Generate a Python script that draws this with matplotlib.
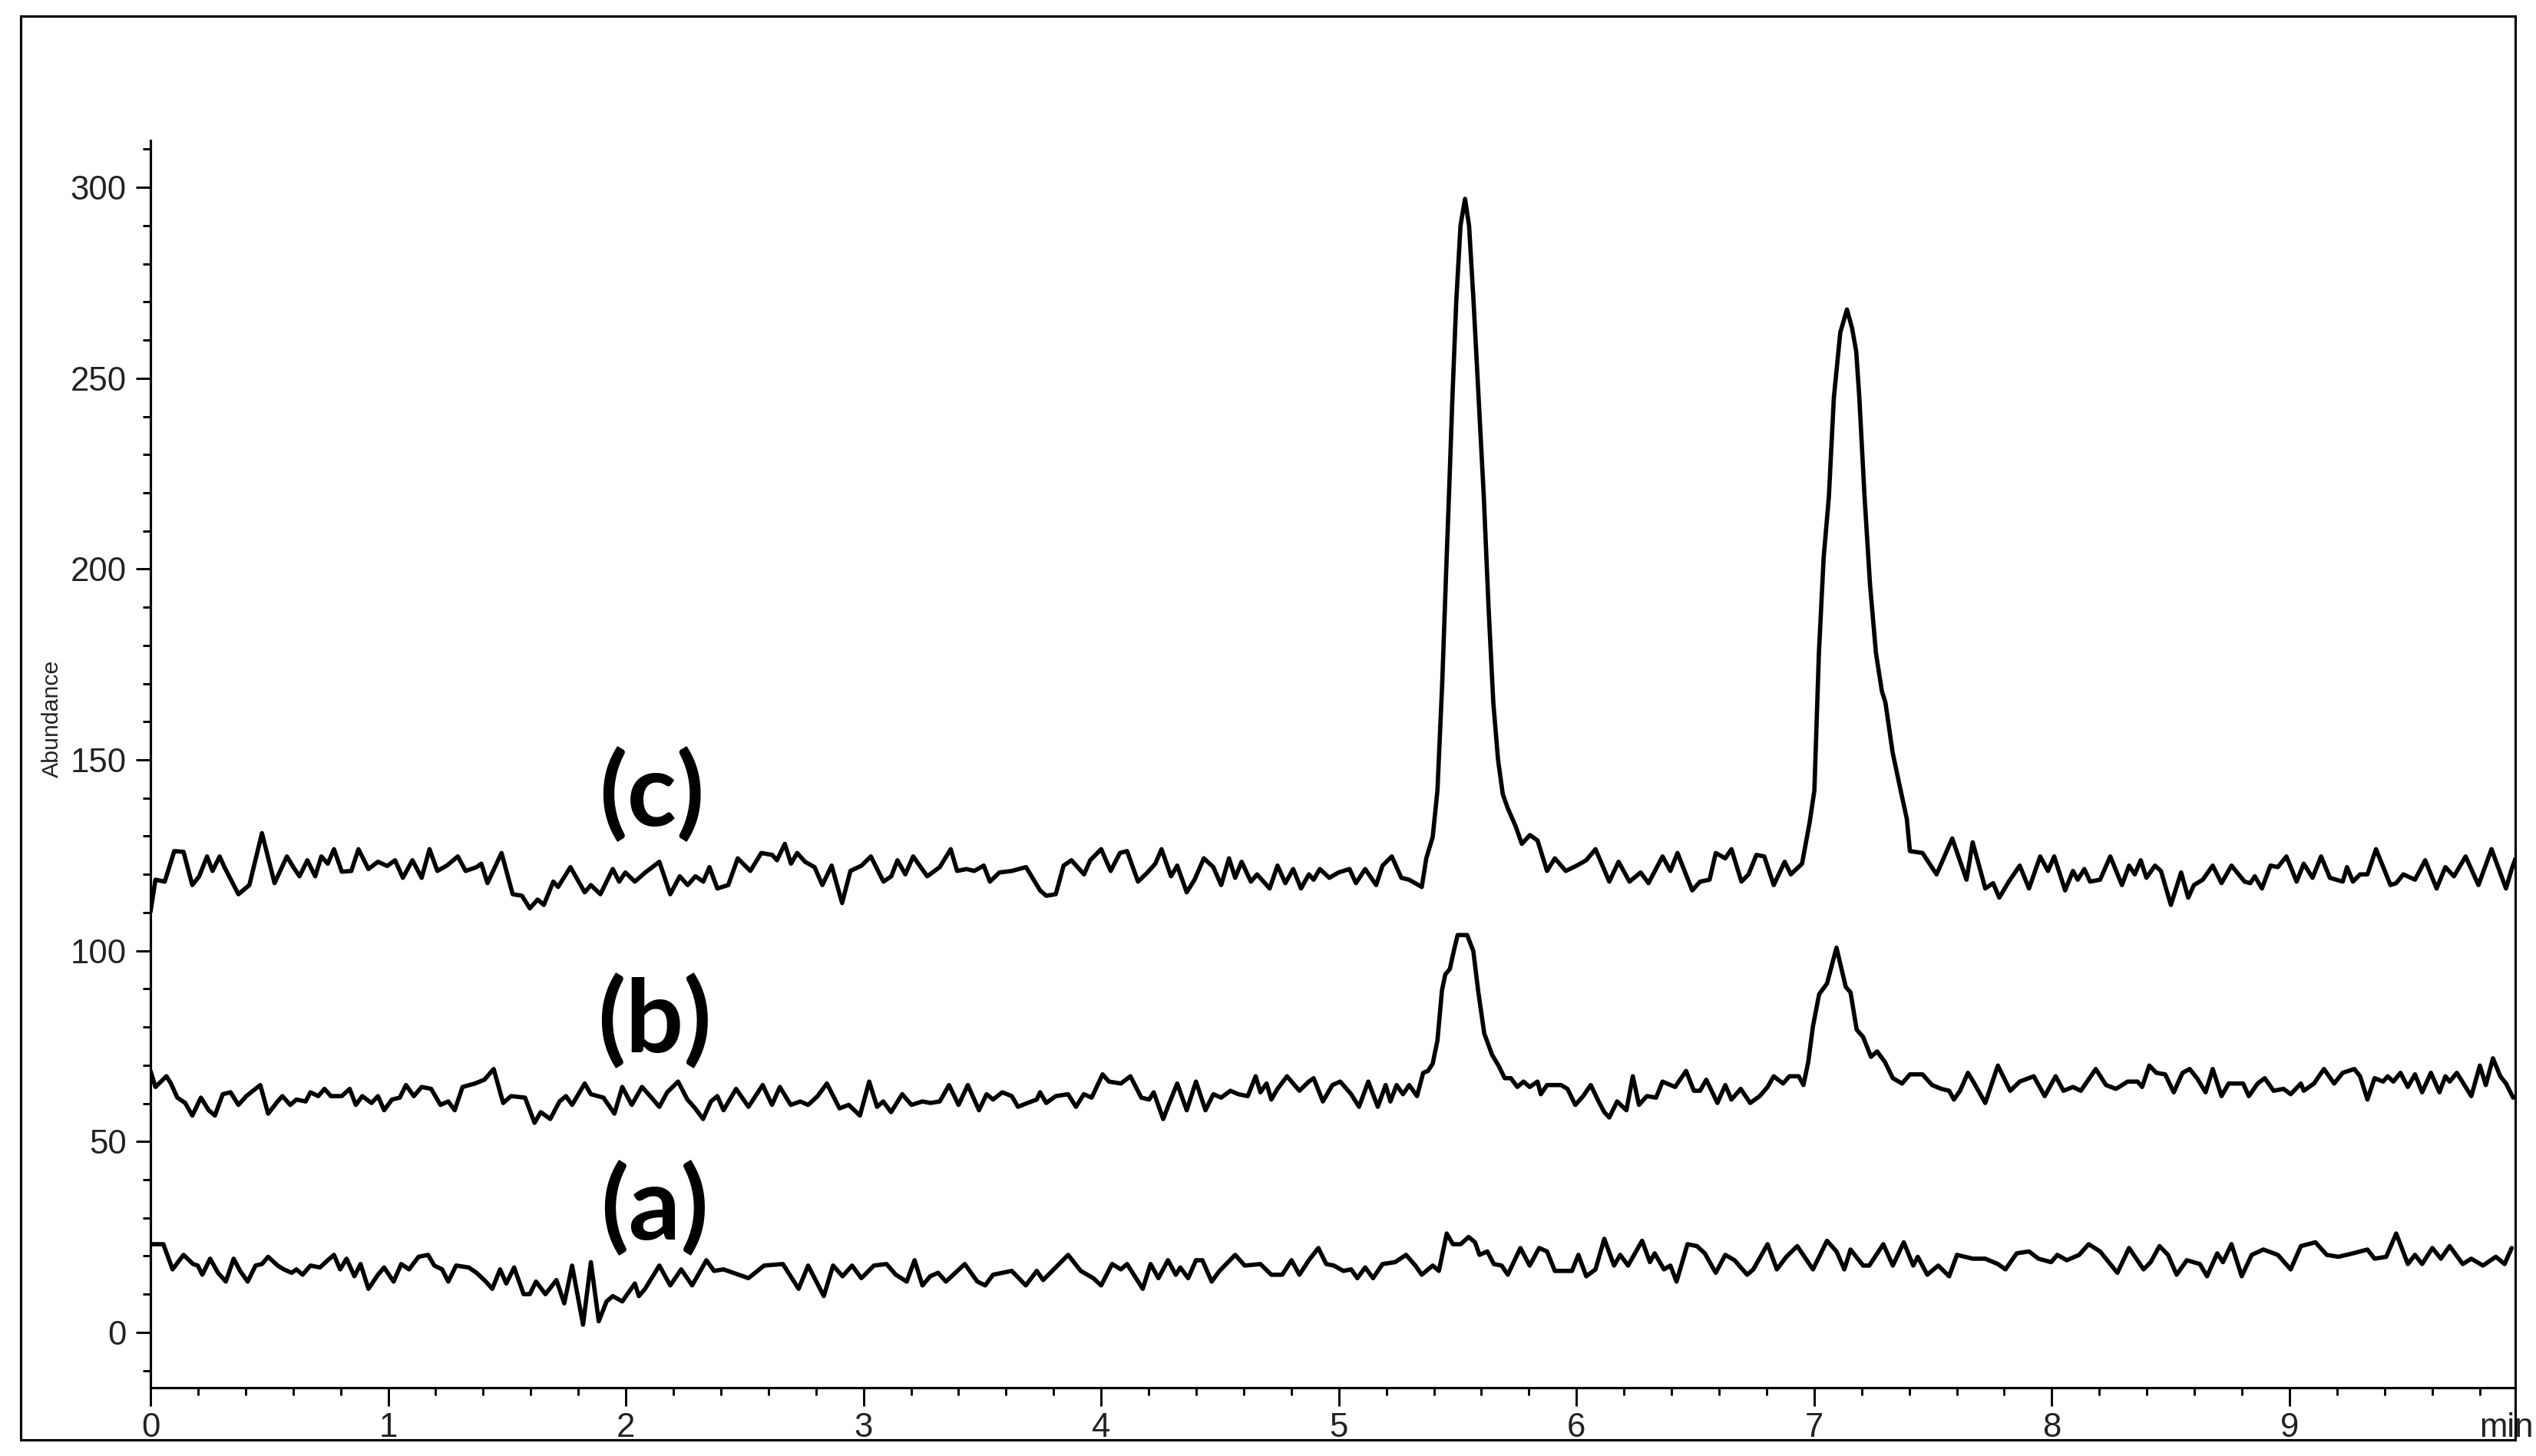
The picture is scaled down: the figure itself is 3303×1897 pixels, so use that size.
import matplotlib.pyplot as plt
from matplotlib.patches import Rectangle
from matplotlib.ticker import MultipleLocator

# chromatogram vertices: (time in min, abundance)
trace_c = [
    (0.000, 110.2), (0.021, 118.6), (0.060, 118.1), (0.100, 126.1), (0.139, 125.9), (0.176, 117.2),
    (0.205, 119.5), (0.238, 124.7), (0.261, 120.9), (0.291, 124.7), (0.311, 121.9), (0.370, 114.8),
    (0.416, 117.2), (0.469, 130.8), (0.522, 117.7), (0.574, 124.7), (0.601, 121.9), (0.627, 119.5),
    (0.660, 123.7), (0.693, 119.5), (0.719, 124.7), (0.746, 122.8), (0.772, 126.6), (0.805, 120.7),
    (0.845, 120.9), (0.875, 126.6), (0.917, 121.4), (0.957, 123.3), (0.996, 122.2), (1.029, 123.7),
    (1.062, 119.1), (1.102, 123.7), (1.141, 119.1), (1.174, 126.6), (1.207, 120.9), (1.247, 122.3),
    (1.293, 124.7), (1.326, 120.9), (1.372, 121.9), (1.392, 122.8), (1.418, 117.7), (1.477, 125.6),
    (1.524, 114.8), (1.563, 114.4), (1.596, 111.1), (1.629, 113.4), (1.655, 112.0), (1.695, 118.1),
    (1.715, 116.7), (1.767, 121.9), (1.827, 115.3), (1.853, 117.2), (1.893, 114.8), (1.945, 121.4),
    (1.972, 118.1), (1.998, 120.5), (2.038, 118.1), (2.082, 120.5), (2.141, 123.3), (2.187, 114.8),
    (2.227, 119.5), (2.260, 117.2), (2.293, 119.5), (2.326, 118.1), (2.352, 121.9), (2.385, 116.3),
    (2.431, 117.2), (2.471, 124.2), (2.524, 120.9), (2.570, 125.6), (2.616, 125.1), (2.636, 123.7),
    (2.669, 128.0), (2.695, 122.8), (2.721, 125.6), (2.754, 123.3), (2.794, 121.9), (2.827, 117.2),
    (2.866, 122.3), (2.910, 112.5), (2.945, 120.9), (2.992, 122.3), (3.031, 124.7), (3.084, 118.1),
    (3.117, 119.5), (3.143, 123.7), (3.176, 120.0), (3.209, 124.7), (3.268, 119.5), (3.321, 121.9),
    (3.367, 126.6), (3.394, 120.9), (3.433, 121.4), (3.466, 120.9), (3.506, 122.3), (3.532, 118.1),
    (3.572, 120.5), (3.624, 120.9), (3.684, 121.9), (3.743, 115.8), (3.769, 114.4), (3.809, 114.8),
    (3.842, 122.3), (3.875, 123.7), (3.928, 120.0), (3.954, 123.7), (4.000, 126.6), (4.040, 120.9),
    (4.079, 125.6), (4.109, 126.1), (4.155, 118.1), (4.195, 120.5), (4.228, 122.8), (4.254, 126.6),
    (4.294, 119.5), (4.320, 122.3), (4.360, 115.3), (4.393, 118.6), (4.432, 124.2), (4.472, 121.9),
    (4.505, 117.2), (4.538, 124.2), (4.564, 119.1), (4.591, 123.3), (4.630, 118.1), (4.656, 120.0),
    (4.709, 116.3), (4.742, 122.3), (4.775, 117.7), (4.808, 121.4), (4.841, 116.3), (4.874, 120.0),
    (4.894, 118.6), (4.920, 121.4), (4.960, 119.1), (4.999, 120.5), (5.045, 121.4), (5.072, 117.7),
    (5.111, 121.4), (5.157, 117.2), (5.184, 122.3), (5.223, 124.7), (5.263, 119.1), (5.296, 118.6),
    (5.349, 116.7), (5.368, 124.2), (5.395, 129.8), (5.415, 142.0), (5.435, 170.0), (5.452, 200.0),
    (5.465, 222.0), (5.478, 245.0), (5.494, 270.0), (5.512, 290.0), (5.531, 297.0), (5.548, 290.0),
    (5.567, 270.0), (5.588, 245.0), (5.610, 219.0), (5.630, 190.0), (5.650, 165.0), (5.670, 150.0),
    (5.690, 141.0), (5.711, 137.3), (5.744, 132.6), (5.770, 128.0), (5.804, 130.3), (5.836, 128.9),
    (5.876, 120.9), (5.909, 124.2), (5.955, 120.9), (6.001, 122.3), (6.041, 123.7), (6.080, 126.6),
    (6.138, 118.1), (6.177, 123.3), (6.223, 118.1), (6.270, 120.5), (6.303, 117.7), (6.362, 124.7),
    (6.395, 120.9), (6.425, 125.6), (6.487, 115.8), (6.520, 118.1), (6.560, 118.6), (6.586, 125.6),
    (6.626, 124.2), (6.652, 126.6), (6.694, 118.1), (6.724, 120.0), (6.757, 125.1), (6.790, 124.7),
    (6.830, 117.2), (6.876, 123.3), (6.902, 120.0), (6.949, 122.8), (6.981, 133.6), (7.001, 142.0),
    (7.020, 178.0), (7.040, 203.0), (7.062, 219.0), (7.083, 245.0), (7.110, 262.0), (7.138, 268.0),
    (7.160, 263.0), (7.177, 257.0), (7.190, 245.0), (7.212, 219.0), (7.235, 196.0), (7.260, 178.0),
    (7.285, 168.0), (7.300, 165.0), (7.330, 152.0), (7.364, 142.0), (7.390, 134.5), (7.403, 126.1),
    (7.456, 125.6), (7.515, 120.0), (7.581, 129.4), (7.641, 118.6), (7.667, 128.4), (7.720, 116.3),
    (7.753, 117.7), (7.779, 113.9), (7.819, 118.1), (7.865, 122.3), (7.904, 116.3), (7.951, 124.7),
    (7.984, 120.9), (8.010, 124.7), (8.056, 115.8), (8.089, 120.9), (8.109, 118.6), (8.137, 121.4),
    (8.161, 118.1), (8.203, 118.6), (8.246, 124.7), (8.295, 117.2), (8.325, 122.3), (8.349, 120.0),
    (8.374, 123.7), (8.398, 119.1), (8.434, 122.3), (8.459, 120.9), (8.501, 112.0), (8.544, 120.5),
    (8.574, 113.9), (8.598, 117.2), (8.635, 118.6), (8.677, 122.3), (8.714, 117.7), (8.756, 122.3),
    (8.811, 118.1), (8.835, 117.7), (8.854, 119.5), (8.884, 116.3), (8.920, 122.3), (8.951, 121.9),
    (8.987, 124.7), (9.030, 118.1), (9.060, 122.8), (9.097, 119.1), (9.133, 124.7), (9.170, 119.1),
    (9.224, 118.1), (9.242, 121.9), (9.267, 118.1), (9.297, 120.0), (9.328, 120.0), (9.364, 126.6),
    (9.425, 117.2), (9.449, 117.7), (9.479, 120.0), (9.528, 118.6), (9.571, 123.7), (9.619, 116.3),
    (9.656, 121.9), (9.692, 119.5), (9.741, 124.7), (9.795, 117.2), (9.850, 126.6), (9.911, 116.3),
    (9.935, 121.4), (9.950, 124.0),
]

trace_b = [
    (0.000, 68.5), (0.021, 64.3), (0.067, 67.1), (0.086, 65.2), (0.113, 61.5), (0.146, 60.1),
    (0.176, 56.8), (0.212, 61.5), (0.245, 58.2), (0.271, 56.8), (0.304, 62.4), (0.337, 62.9),
    (0.370, 59.6), (0.403, 61.9), (0.462, 64.8), (0.495, 57.3), (0.535, 60.5), (0.555, 61.9),
    (0.588, 59.6), (0.614, 61.0), (0.653, 60.5), (0.673, 62.9), (0.706, 61.9), (0.732, 63.8),
    (0.759, 61.9), (0.805, 61.9), (0.838, 63.8), (0.864, 59.6), (0.891, 61.9), (0.930, 60.1),
    (0.957, 61.9), (0.983, 58.2), (1.016, 61.0), (1.049, 61.5), (1.075, 64.8), (1.108, 61.9),
    (1.141, 64.3), (1.181, 63.8), (1.220, 59.6), (1.253, 60.5), (1.280, 58.2), (1.313, 64.3),
    (1.365, 65.2), (1.405, 66.2), (1.444, 69.0), (1.484, 60.1), (1.517, 61.9), (1.576, 61.5),
    (1.616, 54.9), (1.642, 57.7), (1.682, 55.9), (1.721, 60.5), (1.748, 61.9), (1.774, 59.6),
    (1.827, 65.2), (1.853, 62.4), (1.906, 61.5), (1.952, 57.3), (1.985, 64.3), (2.025, 59.6),
    (2.068, 64.3), (2.108, 61.5), (2.141, 59.1), (2.174, 62.9), (2.220, 65.7), (2.259, 61.0),
    (2.292, 58.7), (2.325, 55.9), (2.358, 60.5), (2.385, 61.9), (2.411, 58.2), (2.464, 63.8),
    (2.516, 59.1), (2.576, 64.8), (2.615, 59.6), (2.648, 64.3), (2.694, 59.6), (2.734, 60.5),
    (2.767, 59.6), (2.807, 61.9), (2.846, 65.2), (2.899, 58.7), (2.938, 59.6), (2.985, 56.8),
    (3.024, 65.7), (3.057, 59.1), (3.083, 60.5), (3.116, 57.7), (3.163, 62.4), (3.202, 59.6),
    (3.248, 60.5), (3.281, 60.1), (3.321, 60.5), (3.360, 64.8), (3.400, 59.6), (3.439, 64.8),
    (3.486, 58.2), (3.518, 62.4), (3.545, 61.0), (3.584, 62.9), (3.624, 61.9), (3.650, 59.1),
    (3.690, 60.1), (3.729, 61.0), (3.743, 62.9), (3.769, 60.1), (3.809, 61.9), (3.861, 62.4),
    (3.894, 59.1), (3.927, 62.4), (3.960, 61.5), (4.006, 67.6), (4.033, 65.7), (4.083, 65.2),
    (4.123, 67.1), (4.169, 61.5), (4.202, 61.0), (4.221, 62.9), (4.261, 55.9), (4.287, 60.1),
    (4.320, 65.2), (4.360, 58.2), (4.399, 65.7), (4.439, 58.2), (4.472, 62.4), (4.505, 61.5),
    (4.544, 63.3), (4.577, 62.4), (4.617, 61.9), (4.650, 67.1), (4.670, 62.9), (4.696, 65.2),
    (4.716, 61.0), (4.742, 63.8), (4.782, 67.1), (4.808, 65.2), (4.834, 63.3), (4.874, 65.7),
    (4.894, 66.6), (4.933, 60.5), (4.973, 64.8), (5.006, 65.7), (5.052, 62.4), (5.085, 59.1),
    (5.124, 65.7), (5.164, 59.1), (5.197, 64.8), (5.217, 60.5), (5.243, 64.8), (5.270, 62.4),
    (5.296, 64.8), (5.329, 61.9), (5.355, 68.0), (5.375, 68.5), (5.395, 70.4), (5.415, 76.5),
    (5.434, 89.6), (5.448, 93.8), (5.467, 95.2), (5.487, 100.8), (5.500, 104.1), (5.540, 104.1),
    (5.566, 99.9), (5.586, 89.6), (5.612, 78.3), (5.645, 72.7), (5.672, 69.9), (5.698, 66.6),
    (5.724, 66.6), (5.751, 64.3), (5.777, 65.7), (5.803, 64.3), (5.836, 65.7), (5.850, 62.4),
    (5.876, 64.8), (5.935, 64.8), (5.962, 63.8), (5.995, 59.6), (6.028, 61.9), (6.060, 64.8),
    (6.093, 60.5), (6.117, 57.7), (6.138, 56.3), (6.171, 60.5), (6.210, 58.2), (6.237, 67.1),
    (6.263, 59.6), (6.296, 61.9), (6.335, 61.5), (6.362, 65.7), (6.415, 64.3), (6.461, 68.5),
    (6.494, 63.3), (6.520, 63.3), (6.546, 66.2), (6.593, 60.1), (6.626, 64.8), (6.652, 61.0),
    (6.691, 63.8), (6.731, 60.1), (6.771, 61.9), (6.804, 64.3), (6.830, 67.1), (6.869, 65.2),
    (6.896, 67.1), (6.935, 67.1), (6.955, 64.8), (6.975, 70.8), (6.995, 80.2), (7.021, 88.6),
    (7.054, 91.4), (7.094, 100.8), (7.133, 90.5), (7.153, 89.1), (7.179, 79.3), (7.206, 77.4),
    (7.239, 72.2), (7.265, 73.6), (7.298, 70.8), (7.331, 66.6), (7.370, 65.2), (7.403, 67.6),
    (7.456, 67.6), (7.496, 64.8), (7.535, 63.8), (7.568, 63.3), (7.588, 61.0), (7.614, 63.3),
    (7.647, 68.0), (7.674, 65.2), (7.720, 60.1), (7.773, 69.9), (7.825, 63.3), (7.865, 65.7),
    (7.924, 67.1), (7.970, 61.9), (8.016, 67.1), (8.049, 63.3), (8.089, 64.3), (8.122, 63.3),
    (8.185, 69.0), (8.228, 64.8), (8.270, 63.8), (8.319, 65.7), (8.361, 65.7), (8.380, 64.3),
    (8.410, 69.9), (8.440, 68.0), (8.477, 67.6), (8.513, 62.9), (8.550, 68.0), (8.580, 69.0),
    (8.611, 66.6), (8.647, 62.9), (8.677, 69.0), (8.714, 61.9), (8.744, 65.2), (8.805, 65.2),
    (8.829, 61.9), (8.866, 65.2), (8.896, 66.6), (8.933, 63.3), (8.975, 63.8), (9.005, 62.4),
    (9.048, 65.2), (9.060, 63.3), (9.103, 65.2), (9.145, 69.0), (9.188, 65.2), (9.224, 68.0),
    (9.273, 69.0), (9.297, 67.1), (9.328, 61.0), (9.358, 66.6), (9.394, 65.7), (9.413, 67.1),
    (9.437, 65.7), (9.467, 68.0), (9.498, 64.3), (9.528, 67.6), (9.558, 62.9), (9.595, 68.0),
    (9.631, 62.9), (9.656, 67.1), (9.674, 65.7), (9.704, 68.0), (9.765, 61.9), (9.801, 69.9),
    (9.826, 64.8), (9.856, 71.8), (9.887, 67.1), (9.911, 65.2), (9.941, 61.5),
]

trace_a = [
    (0.000, 23.1), (0.054, 23.1), (0.093, 16.5), (0.139, 20.3), (0.179, 17.9), (0.199, 17.5),
    (0.218, 15.1), (0.251, 19.3), (0.284, 15.6), (0.317, 13.3), (0.350, 19.3), (0.377, 16.1),
    (0.409, 13.3), (0.442, 17.5), (0.469, 17.9), (0.495, 19.8), (0.535, 17.5), (0.561, 16.5),
    (0.594, 15.6), (0.614, 16.5), (0.640, 15.1), (0.673, 17.5), (0.713, 17.0), (0.746, 18.9),
    (0.772, 20.3), (0.798, 16.5), (0.825, 19.3), (0.858, 14.7), (0.884, 17.9), (0.917, 11.4),
    (0.957, 15.1), (0.983, 17.0), (1.023, 13.3), (1.055, 17.9), (1.088, 16.5), (1.128, 19.8),
    (1.168, 20.3), (1.194, 17.5), (1.227, 16.5), (1.253, 13.3), (1.286, 17.5), (1.339, 17.0),
    (1.372, 15.6), (1.411, 13.3), (1.438, 11.4), (1.471, 16.5), (1.497, 12.8), (1.530, 17.0),
    (1.570, 10.0), (1.596, 10.0), (1.622, 13.3), (1.662, 10.0), (1.708, 13.7), (1.741, 7.6),
    (1.774, 17.5), (1.820, 2.0), (1.853, 18.4), (1.886, 2.9), (1.919, 8.1), (1.945, 9.5),
    (1.985, 8.1), (2.038, 12.8), (2.055, 9.5), (2.081, 11.4), (2.141, 17.5), (2.187, 12.3),
    (2.233, 16.5), (2.279, 12.3), (2.339, 18.9), (2.371, 16.1), (2.411, 16.5), (2.516, 14.2),
    (2.582, 17.5), (2.661, 17.9), (2.727, 11.4), (2.767, 17.5), (2.833, 9.5), (2.872, 17.5),
    (2.912, 14.7), (2.952, 17.5), (2.991, 14.2), (3.044, 17.5), (3.097, 17.9), (3.136, 15.1),
    (3.182, 13.3), (3.215, 18.9), (3.248, 12.3), (3.281, 14.7), (3.314, 15.6), (3.347, 13.3),
    (3.426, 17.9), (3.479, 13.3), (3.512, 12.3), (3.545, 15.1), (3.624, 16.1), (3.683, 12.3),
    (3.729, 16.1), (3.756, 13.7), (3.861, 20.3), (3.914, 16.1), (3.967, 14.2), (4.000, 12.3),
    (4.046, 17.9), (4.083, 16.5), (4.109, 17.9), (4.175, 11.4), (4.208, 17.9), (4.241, 14.2),
    (4.281, 18.9), (4.314, 15.1), (4.333, 17.0), (4.366, 14.2), (4.399, 18.9), (4.426, 18.9),
    (4.465, 13.3), (4.498, 16.1), (4.564, 20.3), (4.604, 17.5), (4.670, 17.9), (4.716, 15.1),
    (4.762, 15.1), (4.801, 18.9), (4.834, 15.1), (4.874, 18.9), (4.914, 22.1), (4.947, 17.9),
    (4.979, 17.5), (5.019, 16.1), (5.052, 16.5), (5.078, 14.2), (5.111, 17.0), (5.144, 14.2),
    (5.184, 17.9), (5.237, 18.4), (5.283, 20.3), (5.322, 17.5), (5.349, 15.1), (5.395, 17.5),
    (5.421, 16.1), (5.454, 25.9), (5.480, 23.1), (5.513, 23.1), (5.546, 25.0), (5.573, 23.6),
    (5.592, 20.3), (5.625, 21.2), (5.652, 17.9), (5.685, 17.5), (5.711, 15.1), (5.764, 22.1),
    (5.803, 17.5), (5.843, 22.1), (5.876, 21.2), (5.909, 16.1), (5.981, 16.1), (6.008, 20.3),
    (6.041, 14.7), (6.080, 16.5), (6.117, 24.5), (6.158, 17.5), (6.184, 20.3), (6.217, 17.5),
    (6.276, 24.0), (6.309, 18.4), (6.329, 20.7), (6.368, 16.5), (6.395, 17.5), (6.421, 13.3),
    (6.467, 23.1), (6.507, 22.6), (6.540, 20.7), (6.586, 15.6), (6.626, 20.3), (6.665, 18.9),
    (6.718, 15.1), (6.744, 16.5), (6.804, 23.1), (6.843, 16.5), (6.883, 19.8), (6.929, 22.6),
    (6.995, 16.5), (7.054, 24.0), (7.094, 21.2), (7.127, 16.5), (7.153, 21.7), (7.206, 17.5),
    (7.232, 17.5), (7.291, 23.1), (7.331, 17.5), (7.377, 23.6), (7.417, 17.5), (7.436, 19.8),
    (7.476, 15.1), (7.522, 17.5), (7.568, 14.7), (7.601, 20.3), (7.667, 19.3), (7.720, 19.3),
    (7.773, 17.9), (7.805, 16.5), (7.852, 20.7), (7.904, 21.2), (7.944, 19.3), (7.997, 18.4),
    (8.023, 20.3), (8.063, 18.9), (8.115, 20.3), (8.155, 23.1), (8.203, 21.2), (8.276, 15.6),
    (8.325, 22.1), (8.386, 16.5), (8.416, 18.4), (8.453, 22.6), (8.489, 20.3), (8.525, 15.1),
    (8.568, 18.9), (8.623, 17.9), (8.653, 14.7), (8.696, 20.7), (8.720, 18.4), (8.756, 23.1),
    (8.799, 14.7), (8.841, 20.3), (8.890, 21.7), (8.951, 20.3), (9.005, 16.5), (9.048, 22.6),
    (9.109, 23.6), (9.157, 20.3), (9.206, 19.8), (9.267, 20.7), (9.328, 21.7), (9.358, 19.3),
    (9.407, 19.8), (9.449, 25.9), (9.498, 17.9), (9.528, 20.3), (9.558, 17.9), (9.601, 22.1),
    (9.637, 19.3), (9.674, 22.6), (9.729, 17.9), (9.765, 19.3), (9.814, 17.5), (9.868, 19.8),
    (9.905, 17.9), (9.935, 22.1),
]

panel_names = ["(a)", "(b)", "(c)"]
x_ticks = [0, 1, 2, 3, 4, 5, 6, 7, 8, 9]
y_ticks = [0, 50, 100, 150, 200, 250, 300]

W, H = 3303, 1897
fig = plt.figure(figsize=(W / 300, H / 300), dpi=300)
ax = fig.add_axes([196 / W, 1 - 1808 / H, (3276 - 196) / W, (1808 - 183) / H])

for trace in (trace_a, trace_b, trace_c):
    t, v = zip(*trace)
    ax.plot(t, v, color="black", lw=1.35, solid_joinstyle="round",
            solid_capstyle="round")

ax.set_xlim(0, 9.95)
ax.set_ylim(-14.5, 312.3)
ax.set_xticks(x_ticks)
ax.set_yticks(y_ticks)
ax.xaxis.set_minor_locator(MultipleLocator(0.2))
ax.yaxis.set_minor_locator(MultipleLocator(10))
for side in ("top", "right"):
    ax.spines[side].set_visible(False)
for side in ("left", "bottom"):
    ax.spines[side].set_linewidth(0.75)

tick_font = "Liberation Sans"
ax.tick_params(axis="x", which="major", length=5.8, width=0.7, pad=1.9,
               labelsize=10.5, labelcolor="#222222")
ax.tick_params(axis="y", which="major", length=4.6, width=0.7, pad=2.9,
               labelsize=10.5, labelcolor="#222222")
ax.tick_params(which="minor", length=2.4, width=0.7)
for lab in ax.get_xticklabels() + ax.get_yticklabels():
    lab.set_fontfamily(tick_font)

# panel labels
label_xy = [(2.12, 32.4), (2.12, 81.6), (2.11, 140.8)]
for name, (lx, ly) in zip(panel_names, label_xy):
    ax.text(lx, ly, name, ha="center", va="center", fontsize=32,
            fontweight="bold", family="Lato")

fig.text(68 / W, 1 - 936 / H, "Abundance", rotation=90, ha="center", va="center",
         fontsize=7.3, family=tick_font, color="#222222")
fig.text(3264 / W, 1 - 1872 / H, "min", ha="center", va="baseline",
         fontsize=10.5, family=tick_font, color="#222222")

# outer frame around the whole chart
fig.add_artist(Rectangle((27 / W, 1 - 1876 / H), (3276 - 27) / W, (1876 - 21) / H,
                         transform=fig.transFigure, fill=False, lw=0.75,
                         ec="black", zorder=10))

fig.savefig("out.png", dpi=300)
